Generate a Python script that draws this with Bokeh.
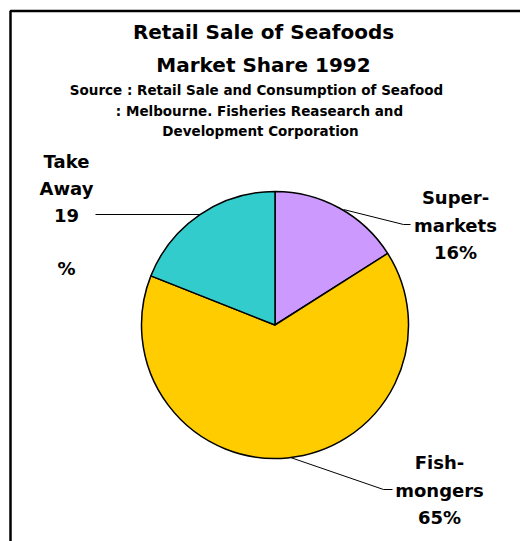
import numpy as np
from bokeh.plotting import figure
from bokeh.models import Range1d
from bokeh.core.properties import value
from bokeh.embed import file_html
from bokeh.resources import INLINE

# ---- data ----
categories = ["Supermarkets", "Fishmongers", "Take Away"]
shares = [16, 65, 19]
label_lines = [["Super-", "markets", "16%"],
               ["Fish-", "mongers", "65%"],
               ["Take", "Away", "19", "", "%"]]
title_lines = ["Retail Sale of Seafoods", "Market Share 1992"]
subtitle_lines = ["Source : Retail Sale and Consumption of Seafood",
                  ": Melbourne. Fisheries Reasearch and",
                  "Development Corporation"]

# ---- styles / layout ----
colors = ["#CC99FF", "#FFCC00", "#33CCCC"]
FONT = value("DejaVu Sans")
W, H = 520, 541
CX, CY, R = 274.5, 324.5, 133.5
label_pos = [(455, 197, 27.5), (439, 462, 27.5), (66, 161, 26.8)]
leaders = [([343, 403, 410], [209, 224, 224]),
           ([290, 383, 392], [457, 489, 489]),
           ([95, 200], [214, 214])]


def Y(s):
    return H - np.asarray(s, dtype=float)


p = figure(width=W, height=H, x_range=Range1d(0, W), y_range=Range1d(0, H),
           output_backend="svg", toolbar_location=None, min_border=0)
p.axis.visible = False
p.grid.visible = False
p.outline_line_color = None
p.background_fill_color = "white"
p.border_fill_color = "white"

# frame border (extends beyond the window on right/bottom)
p.line([10, 10, 540], list(Y([560, 10.5, 10.5])), line_color="black", line_width=2.5)

# pie
frac = np.array(shares, dtype=float) / sum(shares)
cum = np.concatenate([[0.0], np.cumsum(frac)])
start = np.pi / 2 - cum[:-1] * 2 * np.pi
end = np.pi / 2 - cum[1:] * 2 * np.pi
p.wedge(x=[CX] * len(shares), y=[float(Y(CY))] * len(shares), radius=R,
        start_angle=list(start), end_angle=list(end), direction="clock",
        fill_color=colors, line_color="black", line_width=1.5)

# leader lines
for xs, ys in leaders:
    p.line(xs, list(Y(ys)), line_color="black", line_width=1)

# labels
for lines, (lx, ly, dy) in zip(label_lines, label_pos):
    ys = [ly + i * dy for i in range(len(lines))]
    p.text(x=[lx] * len(lines), y=list(Y(ys)), text=lines, text_font=FONT,
           text_font_style="bold", text_font_size="18px", text_color="black",
           text_align="center", text_baseline="middle")

# title
p.text(x=[263, 263], y=list(Y([31, 64])), text=title_lines, text_font=FONT,
       text_font_style="bold", text_font_size="20px", text_color="black",
       text_align="center", text_baseline="middle")
p.text(x=[256, 259, 260], y=list(Y([89, 110, 130])), text=subtitle_lines,
       text_font=FONT, text_font_style="bold", text_font_size="13.5px",
       text_color="black", text_align="center", text_baseline="middle")

open("out.html", "w").write(file_html(p, INLINE))
